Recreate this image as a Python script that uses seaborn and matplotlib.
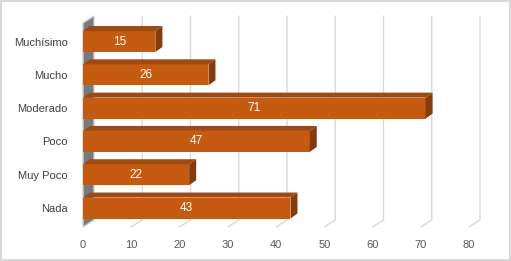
import matplotlib
matplotlib.use("Agg")
import matplotlib.pyplot as plt
import seaborn as sns
import pandas as pd
from matplotlib.patches import Polygon
from matplotlib.transforms import IdentityTransform

# ---------------- data ----------------
categories = ["Muchísimo", "Mucho", "Moderado", "Poco", "Muy Poco", "Nada"]
values = [15, 26, 71, 47, 22, 43]
xticks = [0, 10, 20, 30, 40, 50, 60, 70, 80]

df = pd.DataFrame({"categoria": categories, "valor": values})

sns.set_theme(style="white")
plt.rcParams["font.family"] = ["Liberation Sans", "DejaVu Sans"]

W, H = 511, 261
fig = plt.figure(figsize=(W / 100, H / 100), dpi=100)
fig.patch.set_edgecolor("#D9D9D9")
fig.patch.set_linewidth(1.5)

# front plane in pixels
x0, x1 = 83, 469
ytop, ybot = 23, 227
ax = fig.add_axes([x0 / W, 1 - ybot / H, (x1 - x0) / W, (ybot - ytop) / H])
ax.patch.set_alpha(0)

bar_w = 0.63
front = "#C55A11"
top_c = "#A04912"
side_c = "#843C0C"

sns.barplot(data=df, x="valor", y="categoria", orient="h", color=front,
            saturation=1, width=bar_w, linewidth=0, ax=ax, zorder=3)

ax.set_xlim(0, 80)
ax.set_ylim(5.57, -0.556)
for s in ax.spines.values():
    s.set_visible(False)
ax.set_xlabel("")
ax.set_ylabel("")
ax.set_xticks(xticks)
ax.tick_params(axis="x", length=0, pad=9, labelsize=8, labelcolor="#595959")
ax.tick_params(axis="y", length=0, pad=11, labelsize=8, labelcolor="#404040")

ident = IdentityTransform()
ylo, yhi = ax.get_ylim()  # bottom, top in data


def px(x, y, dx=0, dy=0):
    p = ax.transData.transform((x, y))
    return (p[0] + dx, p[1] + dy)


# back wall depth and bar depth (pixels)
wdx, wdy = 11, 7
bdx, bdy = 7, 5

# left wall
wall = Polygon([px(0, yhi), px(0, yhi, wdx, wdy), px(0, ylo, wdx, wdy), px(0, ylo)],
               closed=True, facecolor="#7A7A7A", edgecolor="#D0D0D0", lw=1.0,
               transform=ident, zorder=1, clip_on=False)
ax.add_artist(wall)

# gridlines on back plane + floor lines
for t in xticks[1:]:
    a = px(t, yhi, wdx, wdy)
    b = px(t, ylo, wdx, wdy)
    c = px(t, ylo)
    ax.add_artist(plt.Line2D([a[0], b[0], c[0]], [a[1], b[1], c[1]],
                             color="#D9D9D9", lw=1, transform=ident, zorder=0.5,
                             clip_on=False))

# 3D faces of bars
for i, v in enumerate(values):
    yt = i - bar_w / 2
    yb = i + bar_w / 2
    topf = Polygon([px(0, yt), px(v, yt), px(v, yt, bdx, bdy), px(0, yt, bdx, bdy)],
                   closed=True, facecolor=top_c, lw=0, transform=ident, zorder=3,
                   clip_on=False)
    sidef = Polygon([px(v, yt), px(v, yb), px(v, yb, bdx, bdy), px(v, yt, bdx, bdy)],
                    closed=True, facecolor=side_c, lw=0, transform=ident, zorder=3,
                    clip_on=False)
    ax.add_artist(topf)
    ax.add_artist(sidef)
    ax.text(v / 2, i, str(v), color="white", ha="center", va="center",
            fontsize=8.5, zorder=5)

fig.savefig("out.png", dpi=100, edgecolor=fig.patch.get_edgecolor())
